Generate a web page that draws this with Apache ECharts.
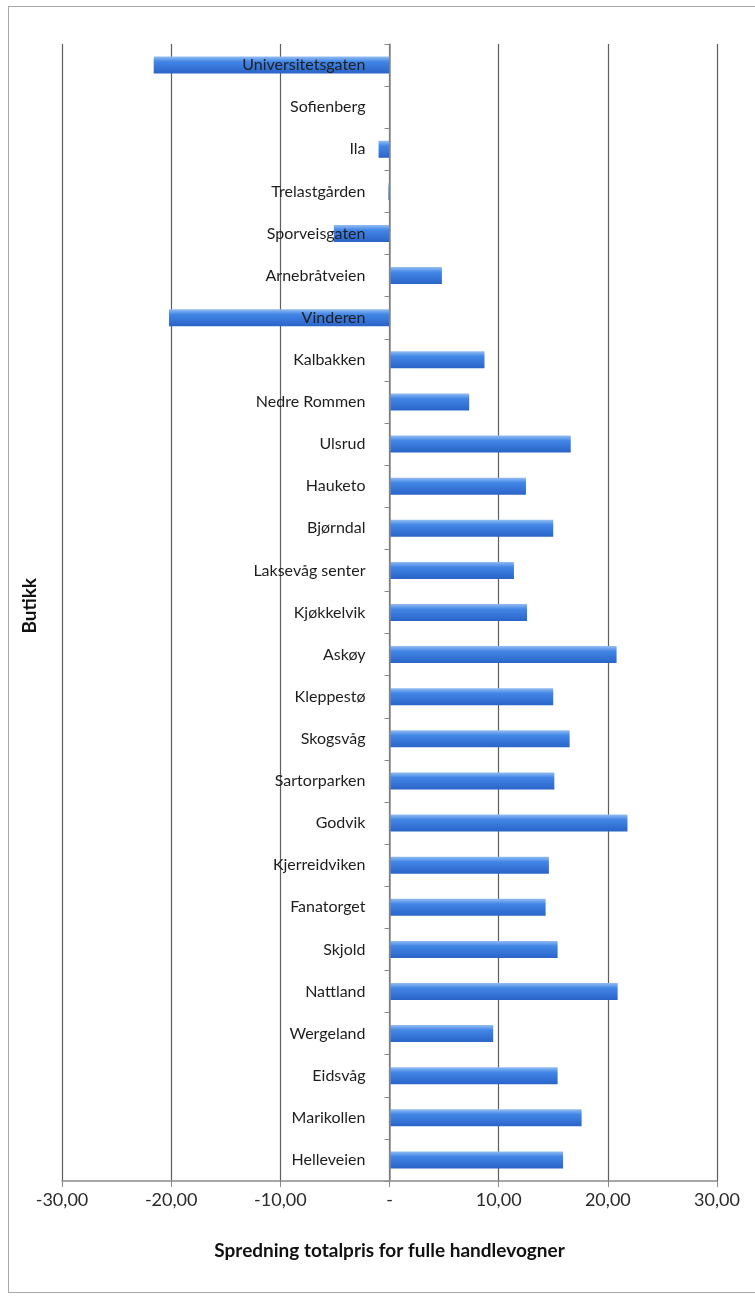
<!DOCTYPE html>
<html>
<head>
<meta charset="utf-8">
<script src="https://cdn.jsdelivr.net/npm/echarts@6/dist/echarts.min.js"></script>
<style>
html,body{margin:0;padding:0;background:#fff;}
#frame{position:absolute;left:8px;top:6px;width:760px;height:1287px;border:1.5px solid #a8a8a8;box-sizing:border-box;}
#chart{position:absolute;left:0;top:0;width:755px;height:1302px;}
</style>
</head>
<body>
<div id="frame"></div>
<div id="chart"></div>
<script>
const categories = ["Universitetsgaten","Sofienberg","Ila","Trelastgården","Sporveisgaten","Arnebråtveien","Vinderen","Kalbakken","Nedre Rommen","Ulsrud","Hauketo","Bjørndal","Laksevåg senter","Kjøkkelvik","Askøy","Kleppestø","Skogsvåg","Sartorparken","Godvik","Kjerreidviken","Fanatorget","Skjold","Nattland","Wergeland","Eidsvåg","Marikollen","Helleveien"];
const values = [-21.6, 0, -1.0, -0.1, -5.1, 4.8, -20.2, 8.7, 7.3, 16.6, 12.5, 15.0, 11.4, 12.6, 20.8, 15.0, 16.5, 15.1, 21.8, 14.6, 14.3, 15.4, 20.9, 9.5, 15.4, 17.6, 15.9];
const xTicks = [-30, -20, -10, 0, 10, 20, 30];
const xTitle = "Spredning totalpris for fulle handlevogner";
const yTitle = "Butikk";

const chart = echarts.init(document.getElementById('chart'));
const FONT = 'Lato';
const GL = 62, GR = 38, W = 755;
const xMin = xTicks[0], xMax = xTicks[xTicks.length - 1];
const zeroOffset = (0 - xMin) / (xMax - xMin) * (W - GL - GR);
chart.setOption({
  animation: false,
  textStyle: { fontFamily: FONT },
  grid: { left: GL, right: GR, top: 44, bottom: 121, containLabel: false, outerBoundsMode: 'none' },
  graphic: [{
    type: 'text', left: 20, top: 578, rotation: Math.PI / 2,
    style: { text: yTitle, font: 'bold 19px ' + FONT, fill: '#111' }
  }],
  xAxis: {
    type: 'value',
    min: xMin, max: xMax, interval: 10,
    name: xTitle, nameLocation: 'middle', nameGap: 60,
    nameTextStyle: { fontFamily: FONT, fontWeight: 'bold', fontSize: 19, color: '#111' },
    axisLine: { show: true, lineStyle: { color: '#8a8a8a', width: 1.5 } },
    axisTick: { show: true, length: 6, lineStyle: { color: '#8a8a8a' } },
    axisLabel: {
      fontSize: 18, color: '#2a2a2a', margin: 10, fontFamily: FONT,
      formatter: v => v === 0 ? '-' : (v.toFixed(2).replace('.', ','))
    },
    splitLine: { show: true, lineStyle: { color: '#5e5e5e', width: 1.2 } }
  },
  yAxis: {
    type: 'category', data: categories, inverse: true, z: 5,
    offset: -zeroOffset,
    axisLine: { show: true, onZero: false, lineStyle: { color: '#8a8a8a', width: 1.5 } },
    axisTick: { show: true, length: 5, lineStyle: { color: '#8a8a8a' } },
    axisLabel: { interval: 0, fontSize: 16, color: '#1e1e1e', margin: 24, fontFamily: FONT },
    splitLine: { show: false }
  },
  series: [{
    type: 'bar', data: values, barWidth: 17,
    itemStyle: {
      color: new echarts.graphic.LinearGradient(0, 0, 0, 1, [
        { offset: 0, color: '#93bdf2' },
        { offset: 0.3, color: '#4286e6' },
        { offset: 1, color: '#2a64c8' }
      ])
    }
  }]
});
</script>
</body>
</html>
